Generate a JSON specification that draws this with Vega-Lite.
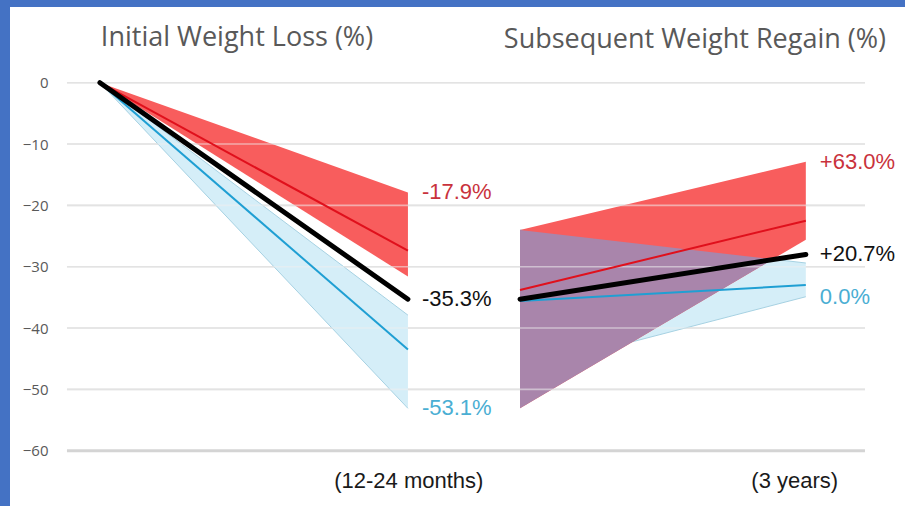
{
  "$schema": "https://vega.github.io/schema/vega-lite/v6.json",
  "width": 895,
  "height": 499,
  "autosize": "none",
  "padding": {"left": 10, "top": 7, "right": 0, "bottom": 0},
  "background": "#4472c4",
  "config": {"view": {"fill": "white", "stroke": null}},
  "resolve": {"scale": {"color": "independent"}},
  "datasets": {
    "bands": [
      {"band": "loss_red", "t": 0, "v": 0, "v2": 0},
      {"band": "loss_red", "t": 1, "v": -17.9, "v2": -31.6},
      {"band": "loss_blue", "t": 0, "v": 0, "v2": 0},
      {"band": "loss_blue", "t": 1, "v": -37.9, "v2": -53.1},
      {"band": "regain_blue", "t": 1.364, "v": -24, "v2": -47},
      {"band": "regain_blue", "t": 2.292, "v": -29.4, "v2": -34.9},
      {"band": "regain_red", "t": 1.364, "v": -24, "v2": -53.1},
      {"band": "regain_red", "t": 2.292, "v": -12.9, "v2": -25.6},
      {"band": "regain_overlap", "t": 1.364, "v": -24, "v2": -53.1},
      {"band": "regain_overlap", "t": 2.185, "v": -28.8, "v2": -28.8}
    ],
    "gridlines": [{"v": 0}, {"v": -10}, {"v": -20}, {"v": -30}, {"v": -40}, {"v": -50}, {"v": -60}],
    "lines": [
      {"series": "red", "stage": "loss", "t": 0, "v": 0},
      {"series": "red", "stage": "loss", "t": 1, "v": -27.4},
      {"series": "blue", "stage": "loss", "t": 0, "v": 0},
      {"series": "blue", "stage": "loss", "t": 1, "v": -43.5},
      {"series": "black", "stage": "loss", "t": 0, "v": 0},
      {"series": "black", "stage": "loss", "t": 1, "v": -35.3},
      {"series": "red", "stage": "regain", "t": 1.364, "v": -33.8},
      {"series": "red", "stage": "regain", "t": 2.292, "v": -22.5},
      {"series": "blue", "stage": "regain", "t": 1.364, "v": -35.6},
      {"series": "blue", "stage": "regain", "t": 2.292, "v": -33.0},
      {"series": "black", "stage": "regain", "t": 1.364, "v": -35.3},
      {"series": "black", "stage": "regain", "t": 2.292, "v": -28.0}
    ],
    "labels": [
      {"stage": "loss", "series": "red", "t": 1, "v": -17.9, "text": "-17.9%"},
      {"stage": "loss", "series": "black", "t": 1, "v": -35.3, "text": "-35.3%"},
      {"stage": "loss", "series": "blue", "t": 1, "v": -53.1, "text": "-53.1%"},
      {"stage": "regain", "series": "red", "t": 2.292, "v": -12.9, "text": "+63.0%"},
      {"stage": "regain", "series": "black", "t": 2.292, "v": -28.0, "text": "+20.7%"},
      {"stage": "regain", "series": "blue", "t": 2.292, "v": -34.9, "text": "0.0%"}
    ],
    "titles": [
      {"t": 0.445, "v": 7.3, "text": "Initial Weight Loss (%)"},
      {"t": 1.932, "v": 7.0, "text": "Subsequent Weight Regain (%)"}
    ],
    "periods": [
      {"t": 1.003, "v": -64.9, "text": "(12-24 months)"},
      {"t": 2.256, "v": -64.9, "text": "(3 years)"}
    ]
  },
  "encoding": {
    "y": {"field": "v", "type": "quantitative", "scale": {"domain": [-69.02, 12.34], "nice": false, "zero": false},
      "axis": {"values": [0, -10, -20, -30, -40, -50, -60], "offset": -40, "labelPadding": 2, "ticks": false, "domain": false, "grid": false, "title": null, "labelFont": "Open Sans", "labelFontSize": 15, "labelColor": "#595959"}}
  },
  "layer": [
    {"data": {"name": "gridlines"},
     "mark": {"type": "rule", "color": "#d6d6d6", "strokeWidth": 1.6},
     "encoding": {"x": {"datum": -0.107, "type": "quantitative", "scale": {"domain": [-0.292, 2.614], "nice": false, "zero": false}, "axis": null}, "x2": {"datum": 2.484}}},
    {"data": {"name": "bands"}, "transform": [{"filter": "datum.band === 'loss_red'"}],
     "mark": {"type": "area", "color": "#f85d5d", "opacity": 1},
     "encoding": {"x": {"field": "t", "type": "quantitative", "scale": {"domain": [-0.292, 2.614], "nice": false, "zero": false}, "axis": null}, "y2": {"field": "v2"}}},
    {"data": {"name": "bands"}, "transform": [{"filter": "datum.band === 'loss_blue' || datum.band === 'regain_blue'"}],
     "mark": {"type": "area", "color": "#d5eef8", "opacity": 1},
     "encoding": {"x": {"field": "t", "type": "quantitative", "scale": {"domain": [-0.292, 2.614], "nice": false, "zero": false}, "axis": null}, "y2": {"field": "v2"}, "detail": {"field": "band"}}},
    {"data": {"name": "bands"}, "transform": [{"filter": "datum.band === 'loss_blue' || datum.band === 'regain_blue'"}, {"fold": ["v", "v2"], "as": ["edge", "ev"]}],
     "mark": {"type": "line", "color": "#a6d1e2", "strokeWidth": 1},
     "encoding": {"x": {"field": "t", "type": "quantitative", "scale": {"domain": [-0.292, 2.614], "nice": false, "zero": false}, "axis": null},
       "detail": [{"field": "band"}, {"field": "edge"}],
       "y": {"field": "ev", "type": "quantitative", "scale": {"domain": [-69.02, 12.34], "nice": false, "zero": false},
         "axis": {"values": [0, -10, -20, -30, -40, -50, -60], "offset": -40, "labelPadding": 2, "ticks": false, "domain": false, "grid": false, "title": null, "labelFont": "Open Sans", "labelFontSize": 15, "labelColor": "#595959"}}}},
    {"data": {"name": "bands"}, "transform": [{"filter": "datum.band === 'regain_red'"}],
     "mark": {"type": "area", "color": "#f85d5d", "opacity": 1},
     "encoding": {"x": {"field": "t", "type": "quantitative", "scale": {"domain": [-0.292, 2.614], "nice": false, "zero": false}, "axis": null}, "y2": {"field": "v2"}}},
    {"data": {"name": "bands"}, "transform": [{"filter": "datum.band === 'regain_overlap'"}],
     "mark": {"type": "area", "color": "#a985ab", "opacity": 1},
     "encoding": {"x": {"field": "t", "type": "quantitative", "scale": {"domain": [-0.292, 2.614], "nice": false, "zero": false}, "axis": null}, "y2": {"field": "v2"}}},
    {"data": {"name": "gridlines"},
     "mark": {"type": "rule", "color": "#eeeeee", "strokeWidth": 1.6, "opacity": 0.55},
     "encoding": {"x": {"datum": -0.107, "type": "quantitative", "scale": {"domain": [-0.292, 2.614], "nice": false, "zero": false}, "axis": null}, "x2": {"datum": 2.484}}},
    {"data": {"name": "gridlines"}, "transform": [{"filter": "datum.v === -60"}],
     "mark": {"type": "rule", "color": "#d4d4d4", "strokeWidth": 3},
     "encoding": {"x": {"datum": -0.107, "type": "quantitative", "scale": {"domain": [-0.292, 2.614], "nice": false, "zero": false}, "axis": null}, "x2": {"datum": 2.484}}},
    {"data": {"name": "lines"}, "transform": [{"filter": "datum.series !== 'black'"}],
     "mark": {"type": "line", "strokeWidth": 2},
     "encoding": {"x": {"field": "t", "type": "quantitative", "scale": {"domain": [-0.292, 2.614], "nice": false, "zero": false}, "axis": null},
       "color": {"field": "series", "type": "nominal", "scale": {"domain": ["red", "blue"], "range": ["#e0101c", "#1f9fd3"]}, "legend": null}, "detail": {"field": "stage"}}},
    {"data": {"name": "lines"}, "transform": [{"filter": "datum.series === 'black'"}],
     "mark": {"type": "line", "strokeWidth": 5, "color": "#000000", "strokeCap": "round"},
     "encoding": {"x": {"field": "t", "type": "quantitative", "scale": {"domain": [-0.292, 2.614], "nice": false, "zero": false}, "axis": null}, "detail": {"field": "stage"}}},
    {"data": {"name": "labels"},
     "mark": {"type": "text", "align": "left", "baseline": "middle", "dx": 14, "font": "Liberation Sans", "fontSize": 22},
     "encoding": {"x": {"field": "t", "type": "quantitative", "scale": {"domain": [-0.292, 2.614], "nice": false, "zero": false}, "axis": null},
       "text": {"field": "text"}, "color": {"field": "series", "type": "nominal", "scale": {"domain": ["red", "black", "blue"], "range": ["#c9323c", "#111111", "#4aaed3"]}, "legend": null}}},
    {"data": {"name": "titles"},
     "mark": {"type": "text", "align": "center", "baseline": "middle", "font": "Open Sans", "fontSize": 27, "color": "#595959"},
     "encoding": {"x": {"field": "t", "type": "quantitative", "scale": {"domain": [-0.292, 2.614], "nice": false, "zero": false}, "axis": null}, "text": {"field": "text"}}},
    {"data": {"name": "periods"},
     "mark": {"type": "text", "align": "center", "baseline": "middle", "font": "Liberation Sans", "fontSize": 22, "color": "#1a1a1a"},
     "encoding": {"x": {"field": "t", "type": "quantitative", "scale": {"domain": [-0.292, 2.614], "nice": false, "zero": false}, "axis": null}, "text": {"field": "text"}}}
  ]
}
